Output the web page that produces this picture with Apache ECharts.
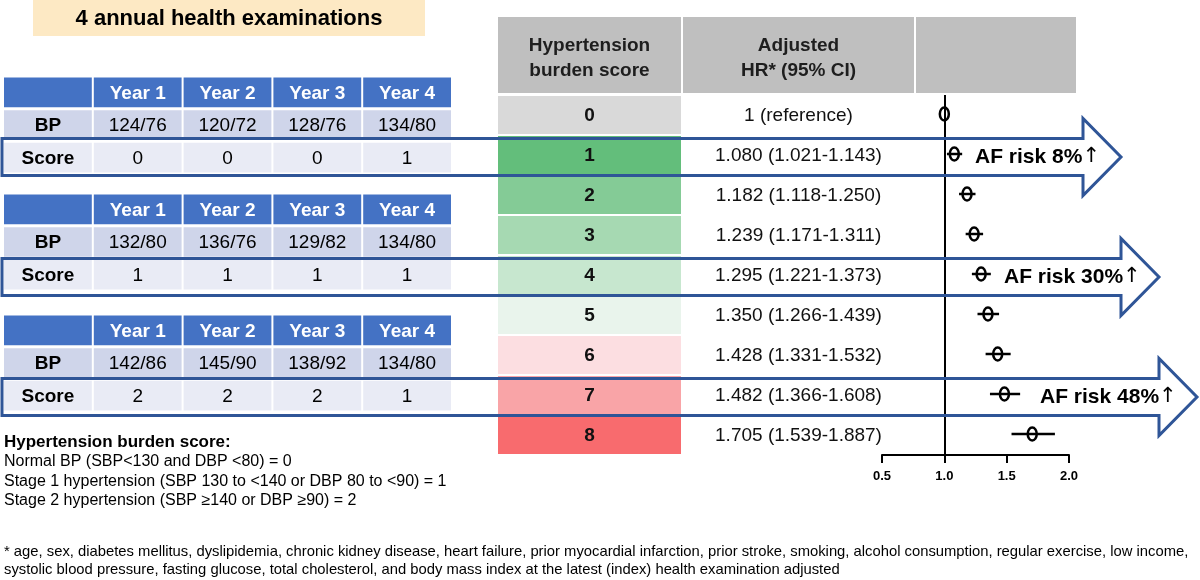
<!DOCTYPE html>
<html><head><meta charset="utf-8">
<script src="https://cdn.jsdelivr.net/npm/echarts@6/dist/echarts.min.js"></script>
<style>html,body{margin:0;padding:0;background:#fff}#c{width:1200px;height:580px}</style>
</head><body><div id="c"></div>
<script>
// ---------- data ----------
const years = ['Year 1', 'Year 2', 'Year 3', 'Year 4'];
const bpA = ['124/76', '120/72', '128/76', '134/80'];
const scoreA = [0, 0, 0, 1];
const bpB = ['132/80', '136/76', '129/82', '134/80'];
const scoreB = [1, 1, 1, 1];
const bpC = ['142/86', '145/90', '138/92', '134/80'];
const scoreC = [2, 2, 2, 1];

const burdenScores = ['0', '1', '2', '3', '4', '5', '6', '7', '8'];
const hrValues = [1.000, 1.080, 1.182, 1.239, 1.295, 1.350, 1.428, 1.482, 1.705];
const ciLower  = [1.000, 1.021, 1.118, 1.171, 1.221, 1.266, 1.331, 1.366, 1.539];
const ciUpper  = [1.000, 1.143, 1.250, 1.311, 1.373, 1.439, 1.532, 1.608, 1.887];
const hrTicks = [0.5, 1.0, 1.5, 2.0];

const arrowRows = [1, 4, 7];
const arrowLabels = ['AF risk 8%', 'AF risk 30%', 'AF risk 48%'];

const headerLines = ['Hypertension\nburden score', 'Adjusted\nHR* (95% CI)', ''];
const noteTitle = 'Hypertension burden score:';
const noteLines = [
  'Normal BP (SBP<130 and DBP <80) = 0',
  'Stage 1 hypertension (SBP 130 to <140 or DBP 80 to <90) = 1',
  'Stage 2 hypertension (SBP \u2265140 or DBP \u226590) = 2'
];
const footLines = [
  '* age, sex, diabetes mellitus, dyslipidemia, chronic kidney disease, heart failure, prior myocardial infarction, prior stroke, smoking, alcohol consumption, regular exercise, low income,',
  'systolic blood pressure, fasting glucose, total cholesterol, and body mass index at the latest (index) health examination adjusted'
];

// ---------- layout / style ----------
const FONT = '"Liberation Sans", Arial, Helvetica, sans-serif';
const scoreColors = ['#d9d9d9', '#63be7b', '#84cb96', '#a6d9b2', '#c7e7cf', '#e9f4ec', '#fcdee1', '#f9a4a7', '#f86b6e'];
const tableTops = [76, 193, 314];
const colEdges = [0, 185, 418, 580];
const arrowHeadX = [1083, 1121, 1159];
const arrowTextX = [975, 1004, 1040];
const ARROW_BLUE = '#2f5597';

function txt(text, x, y, size, weight, color, align) {
  return {type: 'text', x: x, y: y, style: {text: text, fill: color || '#000', fontSize: size, fontWeight: weight || 'normal',
    fontFamily: FONT, align: align || 'center', verticalAlign: 'middle'}};
}

function tableSeries(gi, bp, sc) {
  const cells = [];
  for (let r = 0; r < 3; r++) for (let c = 0; c < 5; c++) {
    let t;
    if (r === 0) t = c === 0 ? '' : years[c - 1];
    else if (r === 1) t = c === 0 ? 'BP' : bp[c - 1];
    else t = c === 0 ? 'Score' : String(sc[c - 1]);
    cells.push({value: [c, r], t: t});
  }
  return {
    type: 'custom', xAxisIndex: gi, yAxisIndex: gi, silent: true, z: 2,
    data: cells.map(d => d.value),
    renderItem(params, api) {
      const d = cells[params.dataIndex];
      const c = d.value[0], r = d.value[1];
      const p = api.coord([c, r]);
      const s = api.size([1, 1]);
      const fill = r === 0 ? '#4472c4' : (r === 1 ? '#cfd5ea' : '#e9ebf5');
      const color = r === 0 ? '#fff' : '#000';
      const bold = (r === 0 || c === 0) ? 'bold' : 'normal';
      return {type: 'group', children: [
        {type: 'rect', shape: {x: p[0] - s[0] / 2 + 1, y: p[1] - s[1] / 2 + 1.5, width: s[0] - 2, height: s[1] - 3}, style: {fill: fill}},
        txt(d.t, p[0], p[1] + 1, 19, bold, color)
      ]};
    }
  };
}

const grids = tableTops.map(t => ({left: 3, top: t, width: 449, height: 98}));
grids.push({left: 497, top: 17, width: 580, height: 76});   // 3 header
grids.push({left: 497, top: 95, width: 580, height: 360});  // 4 body
grids.push({left: 882, top: 95, width: 187, height: 360});  // 5 forest

const xAxes = [], yAxes = [];
for (let i = 0; i < 3; i++) {
  xAxes.push({gridIndex: i, type: 'category', data: ['c0', 'c1', 'c2', 'c3', 'c4'], show: false});
  yAxes.push({gridIndex: i, type: 'category', data: ['head', 'BP', 'Score'], inverse: true, show: false});
}
xAxes.push({gridIndex: 3, type: 'value', min: 0, max: 580, show: false});
yAxes.push({gridIndex: 3, type: 'category', data: ['header'], show: false});
xAxes.push({gridIndex: 4, type: 'value', min: 0, max: 580, show: false});
yAxes.push({gridIndex: 4, type: 'category', data: burdenScores, inverse: true, show: false});
xAxes.push({gridIndex: 5, type: 'value', position: 'bottom', min: hrTicks[0], max: hrTicks[hrTicks.length - 1], interval: 0.5,
  axisLine: {show: true, onZero: false, lineStyle: {color: '#000', width: 2}},
  axisTick: {show: true, length: 8, lineStyle: {color: '#000', width: 2}},
  splitLine: {show: false},
  axisLabel: {color: '#000', fontWeight: 'bold', fontSize: 13, fontFamily: FONT, margin: 15, formatter: v => v.toFixed(1)}
});
yAxes.push({gridIndex: 5, type: 'category', data: burdenScores, inverse: true, show: false});

const series = [
  tableSeries(0, bpA, scoreA),
  tableSeries(1, bpB, scoreB),
  tableSeries(2, bpC, scoreC),
  { // header
    type: 'custom', xAxisIndex: 3, yAxisIndex: 3, silent: true, z: 2,
    data: [[0, 0]],
    renderItem(params, api) {
      const cy = api.coord([0, 0])[1];
      const h = api.size([0, 1])[1];
      const children = [];
      for (let k = 0; k < 3; k++) {
        const x0 = api.coord([colEdges[k], 0])[0], x1 = api.coord([colEdges[k + 1], 0])[0];
        children.push({type: 'rect', shape: {x: x0 + 1, y: cy - h / 2, width: x1 - x0 - 2, height: h}, style: {fill: '#bfbfbf'}});
        if (headerLines[k]) {
          const t = txt(headerLines[k], (x0 + x1) / 2, cy + 3, 19, 'bold', '#1e1e1e');
          t.style.lineHeight = 25;
          children.push(t);
        }
      }
      return {type: 'group', children: children};
    }
  },
  { // table body
    type: 'custom', xAxisIndex: 4, yAxisIndex: 4, silent: true, z: 2,
    data: burdenScores.map((s, i) => [0, i]),
    renderItem(params, api) {
      const i = params.dataIndex;
      const p0 = api.coord([colEdges[0], i]);
      const p1 = api.coord([colEdges[1], i]);
      const p2 = api.coord([colEdges[2], i]);
      const h = api.size([0, 1])[1];
      const label = i === 0 ? '1 (reference)' :
        hrValues[i].toFixed(3) + ' (' + ciLower[i].toFixed(3) + '-' + ciUpper[i].toFixed(3) + ')';
      return {type: 'group', children: [
        {type: 'rect', shape: {x: p0[0] + 1, y: p0[1] - h / 2 + 1, width: p1[0] - p0[0] - 2, height: h - 2}, style: {fill: scoreColors[i]}},
        txt(burdenScores[i], (p0[0] + p1[0]) / 2, p0[1] + 1, 19, 'bold', '#111'),
        txt(label, (p1[0] + p2[0]) / 2, p0[1] + 1, 19, 'normal', '#111')
      ]};
    }
  },
  { // forest plot
    type: 'custom', xAxisIndex: 5, yAxisIndex: 5, silent: true, z: 5,
    data: hrValues.map((v, i) => [v, i, ciLower[i], ciUpper[i]]),
    renderItem(params, api) {
      const row = api.value(1);
      const p = api.coord([api.value(0), row]);
      const lo = api.coord([api.value(2), row]);
      const hi = api.coord([api.value(3), row]);
      const y = p[1] - 1;
      const children = [];
      if (hi[0] - lo[0] > 0.5) {
        children.push({type: 'line', shape: {x1: lo[0], y1: y, x2: hi[0], y2: y}, style: {stroke: '#000', lineWidth: 2.5}});
      }
      children.push({type: 'ellipse', shape: {cx: p[0], cy: y, rx: 4.5, ry: 6.5}, style: {stroke: '#000', lineWidth: 2.5, fill: 'rgba(0,0,0,0)'}});
      return {type: 'group', children: children};
    },
    markLine: {
      silent: true, symbol: ['none', 'none'], label: {show: false},
      lineStyle: {color: '#000', width: 2, type: 'solid'},
      data: [{xAxis: 1}]
    }
  },
  { // arrows
    type: 'custom', xAxisIndex: 5, yAxisIndex: 5, silent: true, z: 10,
    data: arrowRows.map(r => [1, r]),
    renderItem(params, api) {
      const k = params.dataIndex;
      const cy = api.coord([1, api.value(1)])[1] + 2;
      const bx = arrowHeadX[k], tip = bx + 38;
      const bh = 18.5, hh = 38.5;
      const pts = [[2, cy - bh], [bx, cy - bh], [bx, cy - hh], [tip, cy], [bx, cy + hh], [bx, cy + bh], [2, cy + bh]];
      return {type: 'group', children: [
        {type: 'polygon', shape: {points: pts}, style: {stroke: ARROW_BLUE, lineWidth: 3, fill: null, lineJoin: 'miter'}},
        {type: 'text', x: arrowTextX[k], y: cy, style: {
          text: '{b|' + arrowLabels[k] + '}{a|\u2191}', align: 'left', verticalAlign: 'middle',
          rich: {
            b: {fontSize: 21, fontWeight: 'bold', fontFamily: FONT, fill: '#000', color: '#000'},
            a: {fontSize: 21, fontWeight: 'normal', fontFamily: '"DejaVu Sans", sans-serif', fill: '#000', color: '#000'}
          }
        }}
      ]};
    }
  }
];

const graphic = [
  {type: 'rect', left: 33, top: 0, shape: {width: 392, height: 36}, style: {fill: '#fde9c4'}, z: 1},
  {type: 'text', x: 229, y: 19, style: {text: '4 annual health examinations', fontSize: 22, fontWeight: 'bold', fontFamily: FONT, fill: '#000', align: 'center', verticalAlign: 'middle'}, z: 2},
  {type: 'text', x: 4, y: 442, style: {text: noteTitle, fontSize: 17, fontWeight: 'bold', fontFamily: FONT, fill: '#000', align: 'left', verticalAlign: 'middle'}},
  ...noteLines.map((t, i) => ({type: 'text', x: 4, y: 462 + i * 19.5, style: {text: t, fontSize: 16, fontFamily: FONT, fill: '#000', align: 'left', verticalAlign: 'middle'}})),
  ...footLines.map((t, i) => ({type: 'text', x: 4, y: 552 + i * 17.5, style: {text: t, fontSize: 14.8, fontFamily: FONT, fill: '#000', align: 'left', verticalAlign: 'middle'}}))
];

const chart = echarts.init(document.getElementById('c'), null, {renderer: 'canvas'});
chart.setOption({
  animation: false,
  backgroundColor: '#fff',
  textStyle: {fontFamily: FONT},
  grid: grids, xAxis: xAxes, yAxis: yAxes,
  series: series, graphic: graphic
});
</script></body></html>
